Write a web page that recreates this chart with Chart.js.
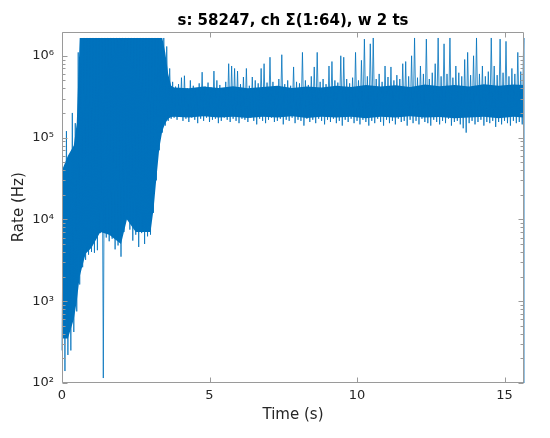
<!DOCTYPE html>
<html>
<head>
<meta charset="utf-8">
<script src="https://cdn.jsdelivr.net/npm/chart.js@4.4.1/dist/chart.umd.min.js"></script>
<style>
html, body { margin: 0; padding: 0; background: #fff; }
</style>
</head>
<body>
<canvas id="rateChart" width="550" height="438"></canvas>
<script>
// sample windows are 0.1 s apart; each window gives a low and a high reading
const sampleStep = 0.1;
const SAT = 1650000; // counter saturation level seen at the start of the run

const rateLow = [
    250, 140, 220, 250, 420, 750, 1600, 2600, 3200, 3700,
    4000, 3900, 4200, 6800, 115, 6000, 5400, 5800, 4300, 4800,
    3500, 7000, 10500, 7500, 5500, 6500, 4600, 6800, 5000, 6200,
    6500, 12000, 30000, 70000, 115000, 140000, 160000, 170000, 175000, 165000,
    180000, 160000, 170000, 155000, 175000, 165000, 150000, 170000, 160000, 175000,
    155000, 165000, 170000, 150000, 160000, 175000, 165000, 155000, 170000, 160000,
    150000, 170000, 165000, 155000, 175000, 160000, 145000, 170000, 160000, 150000,
    165000, 175000, 155000, 160000, 170000, 145000, 165000, 160000, 175000, 150000,
    165000, 160000, 140000, 170000, 155000, 165000, 150000, 170000, 160000, 145000,
    165000, 155000, 170000, 150000, 160000, 140000, 165000, 155000, 170000, 150000,
    160000, 145000, 165000, 155000, 140000, 160000, 150000, 170000, 155000, 140000,
    165000, 150000, 160000, 145000, 170000, 155000, 160000, 140000, 165000, 150000,
    160000, 145000, 170000, 155000, 150000, 140000, 165000, 155000, 145000, 160000,
    150000, 170000, 140000, 155000, 160000, 145000, 130000, 115000, 150000, 160000,
    145000, 155000, 165000, 140000, 155000, 150000, 160000, 135000, 155000, 145000,
    160000, 150000, 140000, 160000, 150000, 155000, 145000
];

const rateHigh = [
    40000, 120000, 50000, 200000, 150000, 1100000, 800000, SAT, SAT, SAT,
    SAT, SAT, SAT, SAT, SAT, SAT, SAT, SAT, SAT, SAT,
    SAT, SAT, SAT, SAT, SAT, SAT, SAT, SAT, SAT, SAT,
    SAT, SAT, SAT, SAT, SAT, 1300000, 700000, 480000, 420000, 450000,
    540000, 570000, 400000, 500000, 430000, 390000, 460000, 630000, 420000, 470000,
    410000, 650000, 500000, 440000, 400000, 480000, 800000, 750000, 700000, 650000,
    450000, 550000, 700000, 430000, 550000, 500000, 460000, 700000, 800000, 470000,
    960000, 480000, 420000, 520000, 1030000, 450000, 500000, 430000, 730000, 480000,
    460000, 1100000, 500000, 440000, 560000, 730000, 1100000, 480000, 520000, 450000,
    750000, 850000, 500000, 470000, 1000000, 960000, 520000, 460000, 540000, 1100000,
    500000, 880000, 1600000, 560000, 1400000, 1650000, 520000, 600000, 480000, 750000,
    550000, 730000, 500000, 580000, 520000, 800000, 850000, 560000, 1000000, 1650000,
    540000, 750000, 600000, 1600000, 520000, 620000, 800000, 1650000, 560000, 1400000,
    600000, 1650000, 540000, 750000, 620000, 560000, 900000, 1100000, 580000, 1000000,
    1650000, 600000, 750000, 560000, 640000, 1650000, 750000, 580000, 1600000, 620000,
    1500000, 560000, 700000, 600000, 1100000, 640000, 1650000
];

// solid core of the trace, where the samples are too dense to tell apart
const bandTimes = [
    0, 0.2, 0.4, 0.5, 0.6, 0.8, 1.0, 1.3, 1.6, 2.0, 2.2, 2.5, 3.0, 3.1, 3.2, 3.3, 3.4, 3.5, 3.6, 3.7,
    3.8, 4.3, 4.8, 5.3, 5.8, 6.3, 6.8, 7.3, 7.8, 8.3, 8.8, 9.3, 9.8, 10.3, 10.8, 11.3, 11.8, 12.3,
    12.8, 13.3, 13.8, 14.3, 14.8, 15.3, 15.65
];
const bandTop = [
    40000, 60000, 80000, 150000, SAT, SAT, SAT, SAT, SAT, SAT, SAT, SAT, SAT, SAT, SAT, SAT, SAT, 1100000, 600000, 430000,
    410000, 400000, 420000, 405000, 425000, 400000, 415000, 430000, 405000, 420000, 410000, 430000, 415000, 440000, 420000, 435000, 415000, 445000,
    425000, 440000, 420000, 450000, 430000, 445000, 440000
];
const bandBottom = [
    350, 350, 600, 1000, 2000, 3800, 4500, 7000, 6500, 5000, 10000, 7000, 7000, 13000, 32000, 75000, 120000, 150000, 170000, 178000,
    180000, 176000, 182000, 176000, 180000, 174000, 180000, 176000, 182000, 174000, 180000, 176000, 180000, 172000, 180000, 176000, 182000, 176000,
    178000, 172000, 176000, 180000, 172000, 180000, 176000
];

// last window reads empty, line drops off the bottom
const endTime = 15.65;
const endRate = 1;

const xTicks = [0, 5, 10, 15];
const xMax = 15.66;
const yMin = 100;
const yMax = 1980000;

const sup = {2: '\u00B2', 3: '\u00B3', 4: '\u2074', 5: '\u2075', 6: '\u2076'};
const fontFamily = "'DejaVu Sans', sans-serif";
const textColor = '#262626';
const boxColor = '#9a9a9a';
const lineColor = '#0072BD';

const points = [];
for (let i = 0; i < rateLow.length; i++) {
    points.push({x: i * sampleStep, y: rateLow[i]});
    points.push({x: i * sampleStep + sampleStep / 2, y: rateHigh[i]});
}
points.push({x: endTime, y: endRate});

const bandLowPts = bandTimes.map((t, i) => ({x: t, y: bandBottom[i]}));
const bandTopPts = bandTimes.map((t, i) => ({x: t, y: bandTop[i]}));

function isDecade(v) {
    const e = Math.log10(v);
    return Math.abs(e - Math.round(e)) < 1e-6;
}

// MATLAB style box with inward ticks
const axisBox = {
    id: 'axisBox',
    afterDatasetsDraw(chart) {
        const {ctx, chartArea: a, scales: {x, y}} = chart;
        const L = Math.round(a.left) + 0.5, R = Math.round(a.right) - 0.5;
        const T = Math.round(a.top) + 0.5, B = Math.round(a.bottom) - 0.5;
        ctx.save();
        ctx.strokeStyle = boxColor;
        ctx.lineWidth = 1;
        ctx.beginPath();
        ctx.rect(L, T, R - L, B - T);
        x.ticks.forEach(t => {
            const px = Math.round(x.getPixelForValue(t.value)) + 0.5;
            ctx.moveTo(px, B); ctx.lineTo(px, B - 5);
            ctx.moveTo(px, T); ctx.lineTo(px, T + 5);
        });
        y.ticks.forEach(t => {
            const v = t.value;
            const m = v / Math.pow(10, Math.floor(Math.log10(v) + 1e-9));
            if (Math.abs(m - Math.round(m)) > 1e-6 || v > yMax) return;
            const len = isDecade(v) ? 5 : 3;
            const py = Math.round(y.getPixelForValue(v)) + 0.5;
            ctx.moveTo(L, py); ctx.lineTo(L + len, py);
            ctx.moveTo(R, py); ctx.lineTo(R - len, py);
        });
        ctx.stroke();
        ctx.restore();
    }
};

new Chart(document.getElementById('rateChart').getContext('2d'), {
    type: 'line',
    data: {
        datasets: [{
            data: points,
            borderColor: lineColor,
            borderWidth: 0.8,
            pointRadius: 0,
            tension: 0,
            fill: false,
            order: 0,
            clip: {left: 1, right: 2, top: 0, bottom: 0}
        }, {
            data: bandLowPts,
            borderWidth: 0,
            pointRadius: 0,
            fill: false,
            order: 2
        }, {
            data: bandTopPts,
            borderWidth: 0,
            pointRadius: 0,
            backgroundColor: lineColor,
            fill: 1,
            order: 1
        }]
    },
    options: {
        responsive: false,
        animation: false,
        layout: {
            padding: {left: 0, right: 26, top: 0, bottom: 0}
        },
        plugins: {
            legend: {
                display: false
            },
            tooltip: {
                enabled: false
            },
            title: {
                display: true,
                fullSize: false,
                text: 's: 58247, ch \u03A3(1:64), w 2 ts',
                color: '#000',
                font: {family: fontFamily, size: 15, weight: 'bold'},
                padding: {top: 12, bottom: 1.5}
            }
        },
        scales: {
            x: {
                type: 'linear',
                min: 0,
                max: xMax,
                afterBuildTicks: s => { s.ticks = xTicks.map(v => ({value: v})); },
                afterFit: s => { s.height = 55; },
                ticks: {
                    font: {family: fontFamily, size: 13},
                    color: textColor,
                    padding: 5,
                    maxRotation: 0,
                    autoSkip: false
                },
                grid: {
                    display: false,
                    drawTicks: false
                },
                border: {
                    display: false
                },
                title: {
                    display: true,
                    text: 'Time (s)',
                    color: textColor,
                    font: {family: fontFamily, size: 15},
                    padding: {top: 0, bottom: 14}
                }
            },
            y: {
                type: 'logarithmic',
                min: yMin,
                max: yMax,
                afterFit: s => { s.width = 62; },
                ticks: {
                    font: {family: fontFamily, size: 13},
                    color: textColor,
                    padding: 8,
                    autoSkip: false,
                    callback: v => isDecade(v) ? '10' + sup[Math.round(Math.log10(v))] : ''
                },
                grid: {
                    display: false,
                    drawTicks: false
                },
                border: {
                    display: false
                },
                title: {
                    display: true,
                    text: 'Rate (Hz)',
                    color: textColor,
                    font: {family: fontFamily, size: 15},
                    padding: {top: 10, bottom: 0}
                }
            }
        }
    },
    plugins: [axisBox]
});
</script>
</body>
</html>
